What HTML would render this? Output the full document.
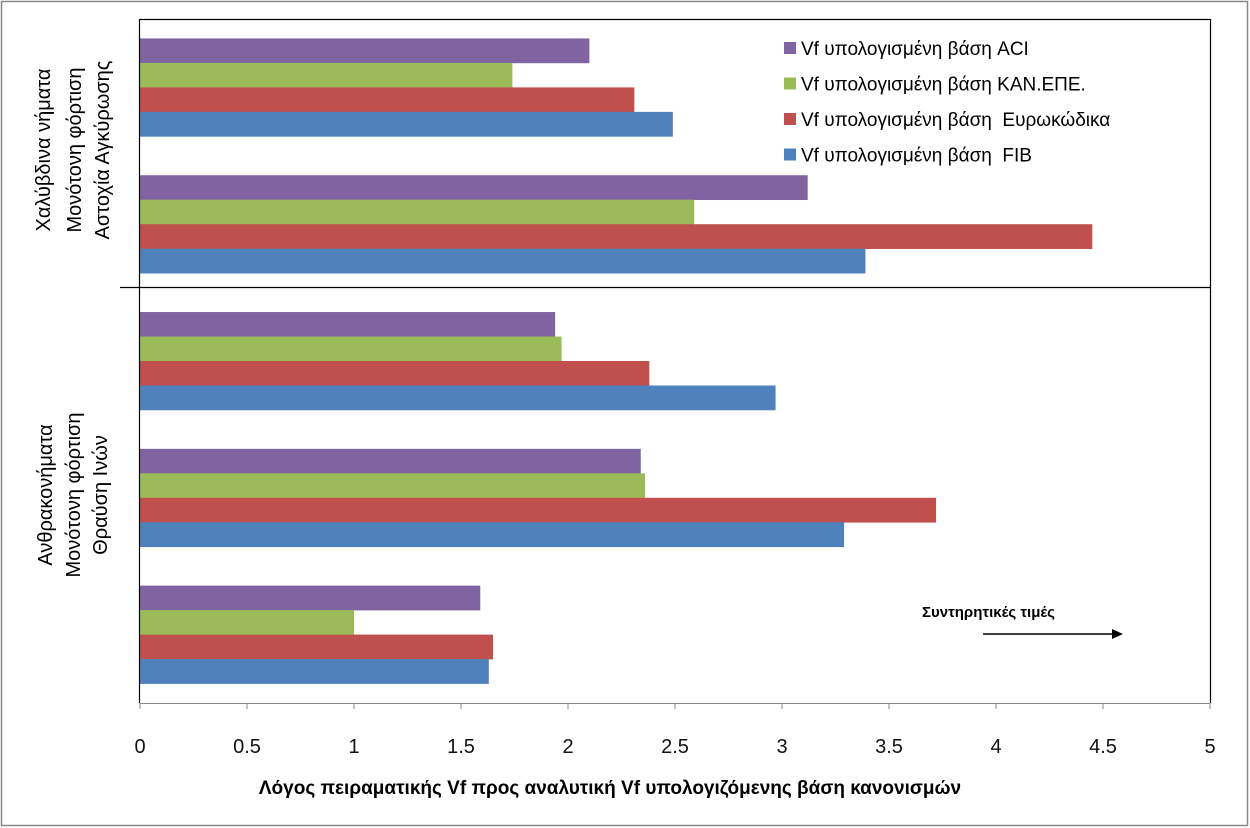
<!DOCTYPE html>
<html><head><meta charset="utf-8">
<style>
html,body{margin:0;padding:0;background:#fff;}
svg{display:block;font-family:"Liberation Sans","DejaVu Sans",sans-serif;}
</style></head>
<body>
<svg id="chart" width="1250" height="828" viewBox="0 0 1250 828">
  <rect x="1.5" y="1.5" width="1246" height="824" fill="#fff" stroke="#888" stroke-width="1.5"/>
  <g id="bars"></g>
  <line x1="139.5" y1="19" x2="139.5" y2="703" stroke="#000" stroke-width="1.2"/>
  <line x1="139.5" y1="19.5" x2="1210.5" y2="19.5" stroke="#000" stroke-width="1.2"/>
  <line x1="1210.5" y1="19" x2="1210.5" y2="703" stroke="#000" stroke-width="1.2"/>
  <line x1="120" y1="287.5" x2="1210.5" y2="287.5" stroke="#000" stroke-width="1.2"/>
  <line x1="139.5" y1="703.5" x2="1210.5" y2="703.5" stroke="#888" stroke-width="1"/>
  <g id="ticks"></g>
  <g font-size="20" fill="#000" text-anchor="middle">
    <text transform="translate(50,150) rotate(-90)">Χαλύβδινα  νήματα</text>
    <text transform="translate(81,150) rotate(-90)">Μονότονη  φόρτιση</text>
    <text transform="translate(109,150) rotate(-90)">Αστοχία Αγκύρωσης</text>
  </g>
  <g font-size="20" fill="#000" text-anchor="middle">
    <text transform="translate(52,495) rotate(-90)">Ανθρακονήματα</text>
    <text transform="translate(80,495) rotate(-90)">Μονότονη  φόρτιση</text>
    <text transform="translate(107,495) rotate(-90)">Θραύση Ινών</text>
  </g>
  <g id="legend" font-size="19" fill="#000"></g>
  <text x="922" y="617" font-size="15" font-weight="bold" fill="#000">Συντηρητικές τιμές</text>
  <line x1="983" y1="634" x2="1114" y2="634" stroke="#000" stroke-width="1.5"/>
  <polygon points="1112,629 1123,634 1112,639" fill="#000"/>
  <text x="610" y="794" font-size="19" font-weight="bold" text-anchor="middle" fill="#000">Λόγος πειραματικής Vf προς αναλυτική Vf υπολογιζόμενης βάση κανονισμών</text>
</svg>
<script>
const categories = ["Steel-1","Steel-2","Carbon-1","Carbon-2","Carbon-3"];
const seriesNames = ["Vf υπολογισμένη βάση ACI","Vf υπολογισμένη βάση KAN.ΕΠΕ.","Vf υπολογισμένη βάση  Ευρωκώδικα","Vf υπολογισμένη βάση  FIB"];
const aciValues = [2.10, 3.12, 1.94, 2.34, 1.59];
const kanValues = [1.74, 2.59, 1.97, 2.36, 1.00];
const euroValues = [2.31, 4.45, 2.38, 3.72, 1.65];
const fibValues = [2.49, 3.39, 2.97, 3.29, 1.63];
const tickLabels = ["0","0.5","1","1.5","2","2.5","3","3.5","4","4.5","5"];

const NS = "http://www.w3.org/2000/svg";
const colors = ["#8064A2","#9BBB59","#C0504D","#4F81BD"];
const seriesKeys = ["aci","kan","euro","fib"];
const plotL = 140, plotR = 1210, plotT = 19, plotB = 703, xMax = 5;
const xScale = v => plotL + v / xMax * (plotR - plotL);
const band = (plotB - plotT) / categories.length;
const barH = band * 0.179;
const pad = (band - 4 * barH) / 2;
const yBar = (ci, si) => plotT + ci * band + pad + si * barH;

const bars = document.getElementById("bars");
const all = [aciValues, kanValues, euroValues, fibValues];
categories.forEach((c, ci) => {
  all.forEach((vals, si) => {
    const r = document.createElementNS(NS, "rect");
    r.setAttribute("x", xScale(0));
    r.setAttribute("y", yBar(ci, si));
    r.setAttribute("width", xScale(vals[ci]) - xScale(0));
    r.setAttribute("height", barH + 0.3);
    r.setAttribute("fill", colors[si]);
    
    
    bars.appendChild(r);
  });
});

const ticks = document.getElementById("ticks");
tickLabels.forEach((t, i) => {
  const x = xScale(parseFloat(t));
  const l = document.createElementNS(NS, "line");
  l.setAttribute("x1", x); l.setAttribute("x2", x);
  l.setAttribute("y1", plotB); l.setAttribute("y2", plotB + 6);
  l.setAttribute("stroke", "#888");
  
  
  ticks.appendChild(l);
  const tx = document.createElementNS(NS, "text");
  tx.setAttribute("x", x); tx.setAttribute("y", 753);
  tx.setAttribute("text-anchor", "middle");
  tx.setAttribute("font-size", "20");
  tx.setAttribute("fill", "#111");
  tx.textContent = t;
  
  
  ticks.appendChild(tx);
});

const legend = document.getElementById("legend");
seriesNames.forEach((n, i) => {
  const cy = 48 + i * 35.5;
  const g = document.createElementNS(NS, "g");
  
  
  const s = document.createElementNS(NS, "rect");
  s.setAttribute("x", 784); s.setAttribute("y", cy - 6);
  s.setAttribute("width", 12); s.setAttribute("height", 12);
  s.setAttribute("fill", colors[i]);
  g.appendChild(s);
  const t = document.createElementNS(NS, "text");
  t.setAttribute("x", 801); t.setAttribute("y", cy + 7);
  t.setAttribute("xml:space", "preserve");
  t.style.whiteSpace = "pre";
  t.textContent = n;
  g.appendChild(t);
  legend.appendChild(g);
});
</script>
</body></html>
